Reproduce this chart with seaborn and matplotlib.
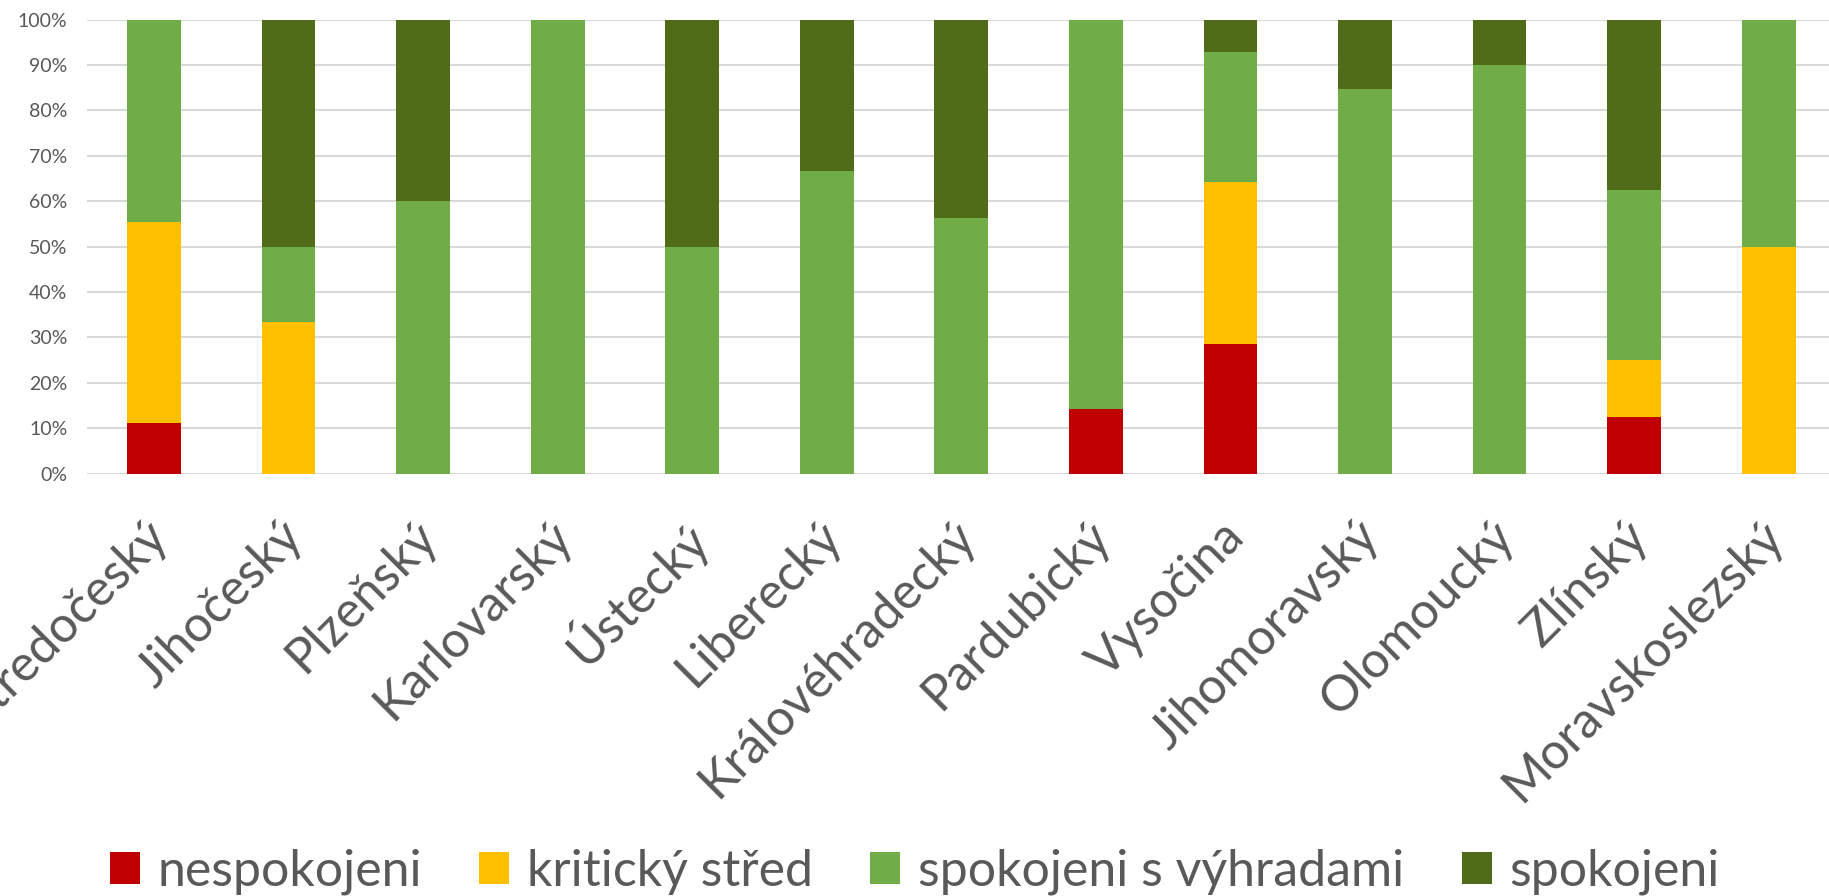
import numpy as np
import pandas as pd
import matplotlib
matplotlib.use("Agg")
import matplotlib.pyplot as plt
import matplotlib.transforms as mtransforms
from matplotlib.patches import Patch
import seaborn as sns

regions = ["Středočeský", "Jihočeský", "Plzeňský", "Karlovarský", "Ústecký", "Liberecký",
           "Královéhradecký", "Pardubický", "Vysočina", "Jihomoravský", "Olomoucký",
           "Zlínský", "Moravskoslezský"]
series_names = ["nespokojeni", "kritický střed", "spokojeni s výhradami", "spokojeni"]
nespokojeni = [11.1, 0, 0, 0, 0, 0, 0, 14.3, 28.6, 0, 0, 12.5, 0]
kriticky = [44.4, 33.3, 0, 0, 0, 0, 0, 0, 35.7, 0, 0, 12.5, 50]
vyhrady = [44.5, 16.7, 60, 100, 50, 66.7, 56.3, 85.7, 28.6, 84.6, 90, 37.5, 50]
spokojeni = [0, 50, 40, 0, 50, 33.3, 43.7, 0, 7.1, 15.4, 10, 37.5, 0]
colors = ["#C00000", "#FFC000", "#70AD47", "#516C18"]
yticks = [0, 10, 20, 30, 40, 50, 60, 70, 80, 90, 100]

sns.set_theme(style="white")
plt.rcParams["font.family"] = ["Lato", "DejaVu Sans"]

layers = np.array([nespokojeni, kriticky, vyhrady, spokojeni], dtype=float)
cum = np.cumsum(layers, axis=0)

fig = plt.figure(figsize=(18.29, 8.96), dpi=100)
ax = fig.add_axes([0.0474, 0.4713, 0.9564, 0.5069])

for i in range(3, -1, -1):
    df = pd.DataFrame({"region": regions, "value": cum[i]})
    sns.barplot(data=df, x="region", y="value", color=colors[i], width=0.4,
                saturation=1, ax=ax, zorder=3, linewidth=0)

ax.set_ylim(0, 100)
ax.set_xlim(-0.5, len(regions) - 0.5)
ax.set_yticks(yticks)
ax.set_yticklabels([f"{t}%" for t in yticks], fontsize=14, color="#595959")
ax.yaxis.grid(True, color="#D9D9D9", linewidth=1.5, zorder=0)
ax.set_axisbelow(True)
ax.tick_params(axis="y", length=0, pad=14)
ax.tick_params(axis="x", length=0, pad=40)
ax.set_xticks(range(len(regions)))
ax.set_xticklabels(regions, rotation=45, ha="right", va="center",
                   rotation_mode="anchor", fontsize=36, color="#595959")
offset = mtransforms.ScaledTranslation(7 / 100, 0, fig.dpi_scale_trans)
for lab in ax.get_xticklabels():
    lab.set_transform(lab.get_transform() + offset)
ax.set_xlabel("")
ax.set_ylabel("")
for s in ax.spines.values():
    s.set_visible(False)

handles = [Patch(facecolor=c, edgecolor="none") for c in colors]
fig.legend(handles, series_names, loc="center", bbox_to_anchor=(0.5, 1 - 872 / 896),
           ncol=4, frameon=False, fontsize=36, handlelength=0.6, handleheight=0.6,
           handletextpad=0.35, columnspacing=1.15, labelcolor="#595959")

fig.savefig("out.png", dpi=100)
